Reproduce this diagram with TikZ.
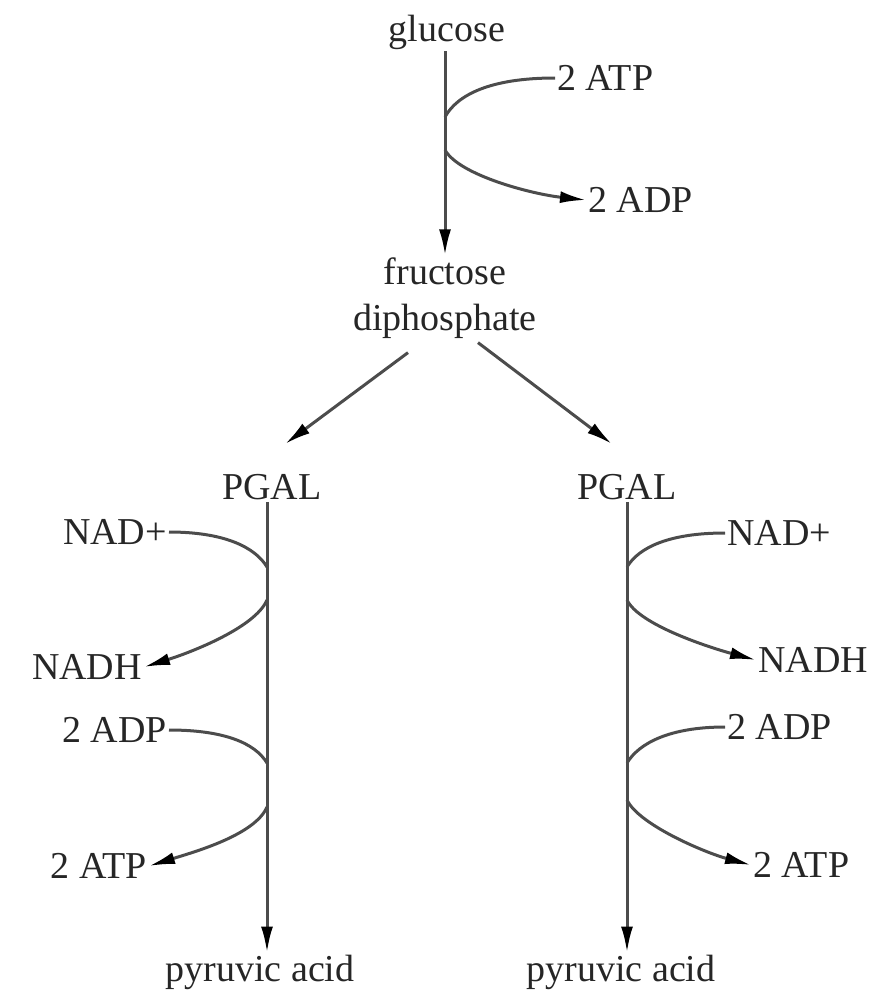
\documentclass[tikz,border=0pt]{standalone}
\usepackage{fontspec}
\setmainfont{Liberation Serif}
\usetikzlibrary{arrows.meta}
\begin{document}
\begin{tikzpicture}[x=1pt,y=-1pt,
  lbl/.style={font=\fontsize{38}{46}\selectfont, text=black!85, inner sep=2pt},
  ln/.style={line width=3pt, draw=black!70},
  arr/.style={-{Latex[length=26pt,width=12pt,color=black]}},
]
\useasboundingbox (0,0) rectangle (874,993);
% nodes
\node[lbl] (glucose) at (447,32) {glucose};
\node[lbl,anchor=west] (atp0) at (555,78) {2 ATP};
\node[lbl,anchor=west] (adp0) at (586,200) {2 ADP};
\node[lbl,align=center] (fru) at (445,298) {fructose\\diphosphate};
\node[lbl] (pgalL) at (272,487) {PGAL};
\node[lbl] (pgalR) at (627,487) {PGAL};
\node[lbl,anchor=east] (nadL) at (169,532) {NAD+};
\node[lbl,anchor=east] (nadhL) at (144,667) {NADH};
\node[lbl,anchor=east] (adpL) at (169,730) {2 ADP};
\node[lbl,anchor=east] (atpL) at (149,866) {2 ATP};
\node[lbl,anchor=west] (nadR) at (725,533) {NAD+};
\node[lbl,anchor=west] (nadhR) at (756,660) {NADH};
\node[lbl,anchor=west] (adpR) at (725,727) {2 ADP};
\node[lbl,anchor=west] (atpR) at (751,865) {2 ATP};
\node[lbl] (pyrL) at (260,972) {pyruvic acid};
\node[lbl] (pyrR) at (621,972) {pyruvic acid};
% junction points on the main lines
\coordinate (j0a) at (445,117);
\coordinate (j0b) at (445,150);
\coordinate (jL1) at (267,567);
\coordinate (jL2) at (267,600);
\coordinate (jL3) at (267,763);
\coordinate (jL4) at (267,807);
\coordinate (jR1) at (627,567);
\coordinate (jR2) at (627,600);
\coordinate (jR3) at (627,763);
\coordinate (jR4) at (627,800);
% main lines
\draw[ln,arr] (glucose.south -| j0a) -- (fru.north -| j0a);
\draw[ln,arr] ([shift={(-37,12)}]fru.south) -- ([shift={(13,-28)}]pgalL.north);
\draw[ln,arr] ([shift={(33,2)}]fru.south) -- ([shift={(-15,-28)}]pgalR.north);
\draw[ln,arr] (pgalL.south -| jL1) -- (pyrL.north -| jL1);
\draw[ln,arr] (pgalR.south -| jR1) -- (pyrR.north -| jR1);
% top side reaction
\draw[ln] (atp0.west) .. controls +(-65,0) and +(12,-22) .. (j0a);
\draw[ln,arr] (j0b) .. controls +(14,25) and +(-55,-6) .. (adp0.west);
% left side reactions
\draw[ln] (nadL.east) .. controls +(55,0) and +(-12,-20) .. (jL1);
\draw[ln,arr] (jL2) .. controls +(-12,28) and +(45,-14) .. (nadhL.east);
\draw[ln] (adpL.east) .. controls +(55,0) and +(-12,-20) .. (jL3);
\draw[ln,arr] (jL4) .. controls +(-12,28) and +(45,-14) .. (atpL.east);
% right side reactions
\draw[ln] (nadR.west) .. controls +(-55,0) and +(12,-20) .. (jR1);
\draw[ln,arr] (jR2) .. controls +(12,25) and +(-45,-12) .. (nadhR.west);
\draw[ln] (adpR.west) .. controls +(-55,0) and +(12,-20) .. (jR3);
\draw[ln,arr] (jR4) .. controls +(12,25) and +(-45,-12) .. (atpR.west);
\end{tikzpicture}
\end{document}
